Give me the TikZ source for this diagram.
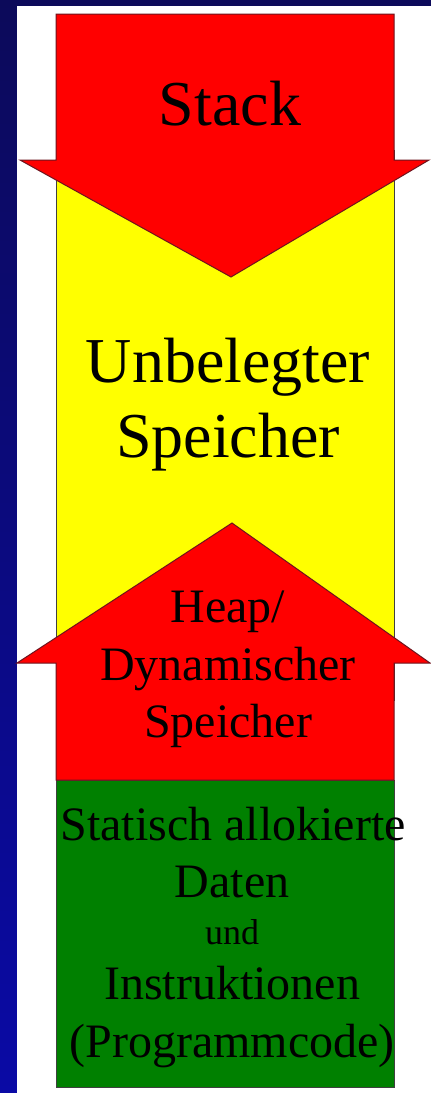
\documentclass[tikz,border=0pt]{standalone}
\usepackage{fontspec}
\setmainfont{Liberation Serif}
\definecolor{navytop}{RGB}{12,10,90}
\definecolor{navybot}{RGB}{10,10,165}
\definecolor{arrowred}{RGB}{255,0,0}
\definecolor{arrowedge}{RGB}{110,20,30}
\definecolor{memyellow}{RGB}{255,255,0}
\definecolor{memgreen}{RGB}{0,128,0}
\tikzset{
  memblock/.style={draw=black!75, line width=1pt},
  memarrow/.style={fill=arrowred, draw=arrowedge, line width=1pt, line join=miter},
  bigtxt/.style={anchor=base, inner sep=0pt, font=\fontsize{64}{75}\selectfont},
  midtxt/.style={anchor=base, inner sep=0pt, font=\fontsize{48}{56}\selectfont},
  smalltxt/.style={anchor=base, inner sep=0pt, font=\fontsize{36}{42}\selectfont},
}
\begin{document}
\begin{tikzpicture}[x=1pt,y=-1pt]
\useasboundingbox (0,0) rectangle (431,1093);
% slide background
\shade[top color=navytop, bottom color=navybot] (0,0) rectangle (431,1093);
\fill[white] (17,6) rectangle (431,1093);
% free memory and static area
\path[memblock, fill=memyellow] (56,150) rectangle (394,700);
\path[memblock, fill=memgreen] (56,780) rectangle (394,1087);
% heap arrow (pointing up)
\path[memarrow] (56,780) -- (56,663) -- (17,663) -- (232,523) -- (430,663) -- (394,663) -- (394,780) -- cycle;
% stack arrow (pointing down)
\path[memarrow] (56,14) -- (394,14) -- (394,160) -- (429,160) -- (231,277) -- (20,160) -- (56,160) -- cycle;
% labels
\node[bigtxt] (stack) at (230,125) {Stack};
\node[bigtxt] (free1) at (228,382) {Unbelegter};
\node[bigtxt] (free2) at (228,457) {Speicher};
\node[midtxt] (heap1) at (228,622) {Heap/};
\node[midtxt] (heap2) at (228,680) {Dynamischer};
\node[midtxt] (heap3) at (228,737) {Speicher};
\node[midtxt] (stat1) at (233,840) {Statisch allokierte};
\node[midtxt] (stat2) at (232,897) {Daten};
\node[smalltxt] (stat3) at (232,944) {und};
\node[midtxt] (stat4) at (232,999) {Instruktionen};
\node[midtxt] (stat5) at (232,1057) {(Programmcode)};
\end{tikzpicture}
\end{document}
